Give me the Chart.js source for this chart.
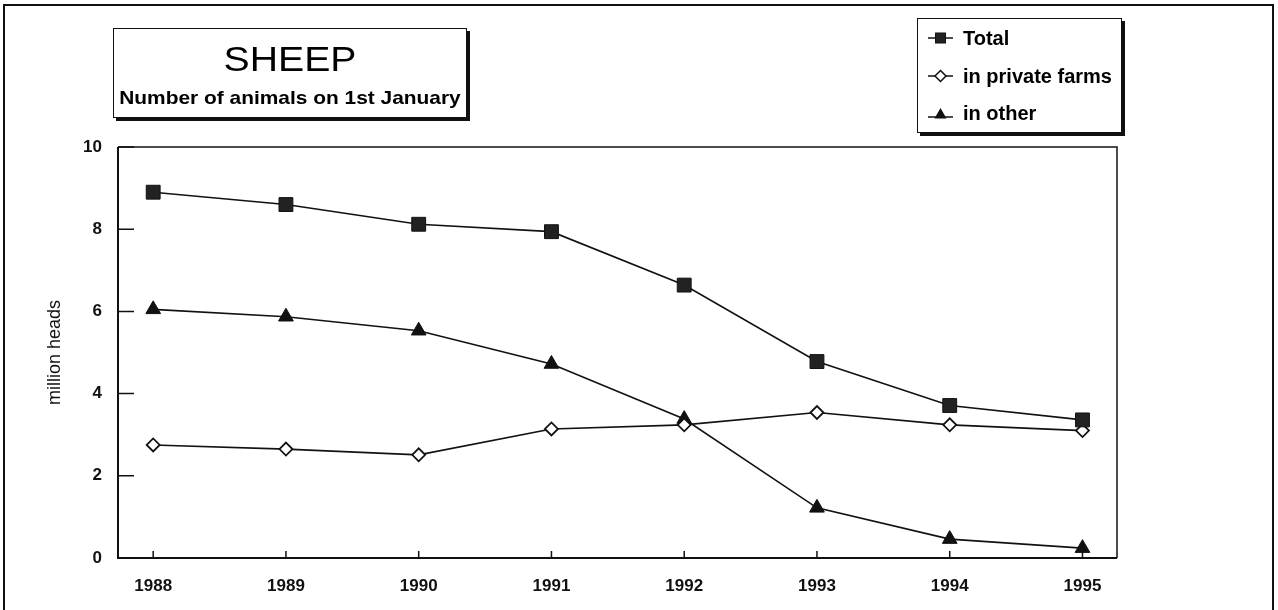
<!DOCTYPE html>
<html>
<head>
<meta charset="utf-8">
<script src="https://cdn.jsdelivr.net/npm/chart.js@4/dist/chart.umd.min.js"></script>
<style>
  body { margin: 0; background: #fff; font-family: "Liberation Sans", Arial, sans-serif; }
  #wrap { position: relative; width: 1278px; height: 610px; overflow: hidden; }
  #chart { position: absolute; left: 0; top: 0; }
  #frame { position: absolute; left: 3px; top: 4px; width: 1267px; height: 700px;
           border: 2px solid #111; border-bottom: none; }
  .box { position: absolute; background: #fff; border: 1px solid #111; box-shadow: 3px 3px 0 #111; }
  #titleBox { left: 113px; top: 28px; width: 352px; height: 88px; text-align: center; }
  #titleBox .main { position: absolute; left: 0; right: 0; top: 11px; font-size: 35px; line-height: 38px; transform: scaleX(1.12); }
  #titleBox .sub { position: absolute; left: 0; right: 0; font-size: 19px; font-weight: bold; line-height: 22px; transform: translateY(-50%) scaleX(1.1); }
  #legendBox { left: 917px; top: 18px; width: 203px; height: 113px; }
  .item { position: absolute; left: 10px; height: 24px; display: flex; align-items: center;
          font-size: 20px; font-weight: bold; }
  .item svg { margin-right: 10px; }
</style>
</head>
<body>
<div id="wrap">
  <div id="frame"></div>
  <canvas id="chart" width="1278" height="610"></canvas>
  <div class="box" id="titleBox">
    <div class="main">SHEEP</div>
    <div class="sub" style="top:69px">Number of animals on 1st January</div>
  </div>
  <div class="box" id="legendBox">
    <div class="item" style="top:7px">
      <svg width="25" height="14"><line x1="0" y1="7" x2="25" y2="7" stroke="#111" stroke-width="1.5"/><rect x="7.5" y="2" width="10" height="10" fill="#222" stroke="#111"/></svg>Total
    </div>
    <div class="item" style="top:45px">
      <svg width="25" height="14"><line x1="0" y1="7" x2="25" y2="7" stroke="#111" stroke-width="1.5"/><polygon points="12.5,1.5 18,7 12.5,12.5 7,7" fill="#fff" stroke="#111" stroke-width="1.5"/></svg>in private farms
    </div>
    <div class="item" style="top:82px">
      <svg width="25" height="14"><line x1="0" y1="11" x2="25" y2="11" stroke="#111" stroke-width="1.5"/><polygon points="12.5,2 18.5,12.5 6.5,12.5" fill="#111"/></svg>in other
    </div>
  </div>
</div>
<script>
const years = [1988, 1989, 1990, 1991, 1992, 1993, 1994, 1995];
const totalHeads = [8.90, 8.60, 8.12, 7.94, 6.64, 4.78, 3.71, 3.36];
const privateHeads = [2.75, 2.65, 2.51, 3.14, 3.24, 3.54, 3.24, 3.10];
const otherHeads = [6.05, 5.87, 5.53, 4.72, 3.38, 1.22, 0.46, 0.24];
const yTicks = [0, 2, 4, 6, 8, 10];

const toPoints = (vals) => years.map((yr, i) => ({ x: yr, y: vals[i] }));

// frame around the plot + inward tick marks
const plotFrame = {
  id: 'plotFrame',
  beforeDatasetsDraw(chart) {
    const { ctx, chartArea: a, scales } = chart;
    ctx.save();
    ctx.strokeStyle = '#111';
    ctx.lineWidth = 1.5;
    ctx.beginPath();
    ctx.moveTo(a.left, a.top); ctx.lineTo(a.right, a.top); ctx.lineTo(a.right, a.bottom);
    ctx.stroke();
    ctx.lineWidth = 2;
    ctx.beginPath();
    ctx.moveTo(a.left, a.top); ctx.lineTo(a.left, a.bottom); ctx.lineTo(a.right, a.bottom);
    ctx.stroke();
    ctx.lineWidth = 1.5;
    ctx.beginPath();
    yTicks.forEach(v => {
      const py = scales.y.getPixelForValue(v);
      ctx.moveTo(a.left, py); ctx.lineTo(a.left + 16, py);
    });
    years.forEach(v => {
      const px = scales.x.getPixelForValue(v);
      ctx.moveTo(px, a.bottom); ctx.lineTo(px, a.bottom - 7);
    });
    ctx.stroke();
    ctx.restore();
  }
};

const tickFont = { family: '"Liberation Sans", Arial, sans-serif', size: 17, weight: 'bold' };

new Chart(document.getElementById('chart'), {
  type: 'line',
  data: {
    datasets: [
      {
        label: 'Total',
        data: toPoints(totalHeads),
        borderColor: '#111', borderWidth: 1.6,
        pointStyle: 'rect', pointRadius: 9.8,
        pointBackgroundColor: '#222', pointBorderColor: '#111', pointBorderWidth: 1
      },
      {
        label: 'in private farms',
        data: toPoints(privateHeads),
        borderColor: '#111', borderWidth: 1.6,
        pointStyle: 'rectRot', pointRadius: 6.5,
        pointBackgroundColor: '#fff', pointBorderColor: '#111', pointBorderWidth: 1.8
      },
      {
        label: 'in other',
        data: toPoints(otherHeads),
        borderColor: '#111', borderWidth: 1.6,
        pointStyle: 'triangle', pointRadius: 8.5,
        pointBackgroundColor: '#111', pointBorderColor: '#111', pointBorderWidth: 1
      }
    ]
  },
  options: {
    responsive: false,
    animation: false,
    devicePixelRatio: 1,
    layout: { padding: { left: 20, top: 147, right: 161, bottom: 0 } },
    plugins: { legend: { display: false }, tooltip: { enabled: false } },
    scales: {
      x: {
        type: 'linear',
        min: 1987.735,
        max: 1995.26,
        afterBuildTicks: (s) => { s.ticks = years.map(v => ({ value: v })); },
        afterFit: (s) => { s.height = 52; },
        grid: { display: false, drawTicks: false },
        border: { display: false },
        ticks: { color: '#111', font: tickFont, padding: 18, callback: (v) => String(v) }
      },
      y: {
        min: 0,
        max: 10,
        afterBuildTicks: (s) => { s.ticks = yTicks.map(v => ({ value: v })); },
        afterFit: (s) => { s.width = 98; },
        grid: { display: false, drawTicks: false },
        border: { display: false },
        ticks: { color: '#111', font: tickFont, padding: 16 },
        title: {
          display: true,
          text: 'million heads',
          color: '#111',
          font: { family: '"Liberation Sans", Arial, sans-serif', size: 18 },
          padding: { top: 24, bottom: 0 }
        }
      }
    }
  },
  plugins: [plotFrame]
});
</script>
</body>
</html>
